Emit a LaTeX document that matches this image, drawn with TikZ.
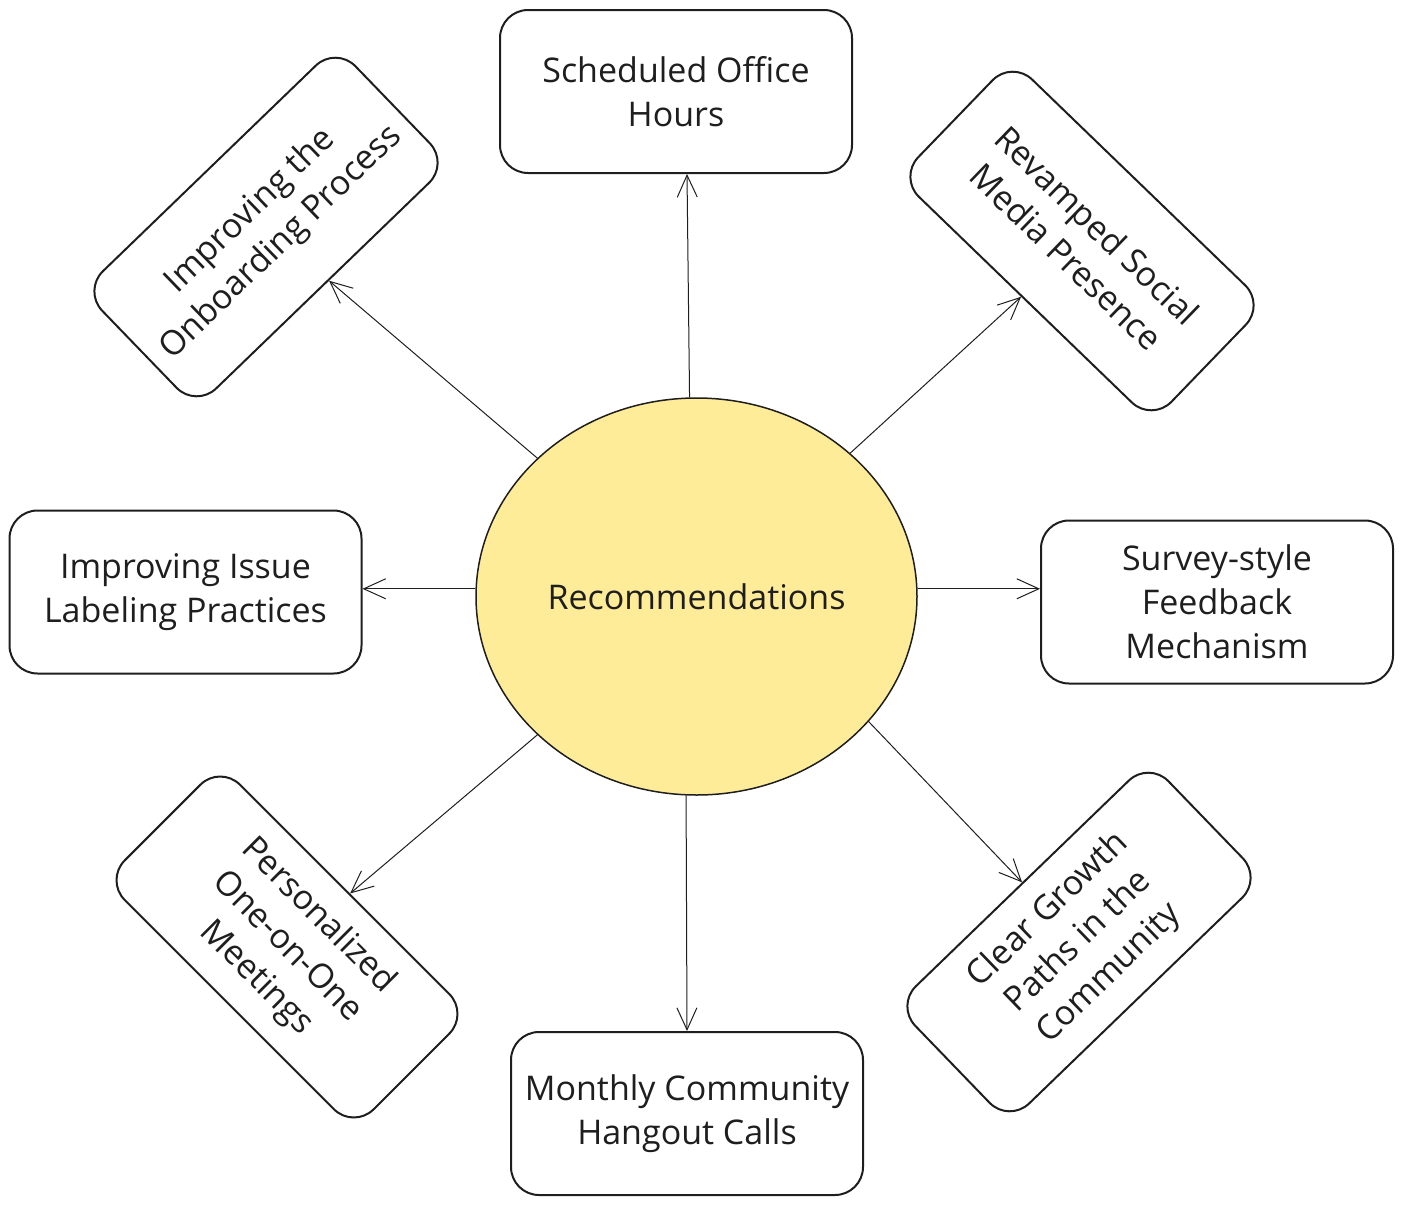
\documentclass[tikz,border=0pt]{standalone}
\usepackage{fontspec}
\setmainfont{Open Sans}
\usetikzlibrary{arrows.meta,shapes.geometric,calc}
\definecolor{ink}{HTML}{1E1E1E}
\definecolor{sun}{HTML}{FFEC99}
\begin{document}
\begin{tikzpicture}[x=0.5pt,y=-0.5pt,
  box/.style={draw=ink, line width=1pt, rounded corners=14pt,
    minimum width=176pt, minimum height=81.5pt, align=center, text=ink,
    font=\fontsize{17}{22}\selectfont, inner sep=0pt},
  hub/.style={ellipse, draw=ink, fill=sun, line width=0.75pt,
    minimum width=220.5pt, minimum height=198.5pt, inner sep=0pt, text=ink,
    font=\fontsize{17}{22}\selectfont},
  arr/.style={draw=ink, line width=0.5pt,
    -{Straight Barb[length=11pt,width=10pt]}}]
\useasboundingbox (0,0) rectangle (1403,1205);

\node[hub] (rec) at (696.5,596.5) {Recommendations};

\node[box] (so) at (676,91.5) {Scheduled Office\\Hours};
\node[box] (fb) at (1217,602) {Survey-style\\Feedback\\Mechanism};
\node[box] (mc) at (687,1113.5) {Monthly Community\\Hangout Calls};
\node[box] (lp) at (185.5,592) {Improving Issue\\Labeling Practices};
\node[box, rotate=44] (ob) at (266,227) {Improving the\\Onboarding Process};
\node[box, rotate=-44] (sm) at (1082,241) {Revamped Social\\Media Presence};
\node[box, rotate=-45] (pm) at (287,947) {Personalized\\One-on-One\\Meetings};
\node[box, rotate=44] (cg) at (1079,942) {Clear Growth\\Paths in the\\Community};

\draw[arr] (rec.92.1) -- ([xshift=5.5pt]so.south);
\draw[arr] (rec.267.3) -- (mc.north);
\draw[arr] (rec.178.3) -- (lp.east |- rec.178.3);
\draw[arr] (rec.2.2) -- (fb.west |- rec.2.2);
\draw[arr] (rec.139.2) -- (ob);
\draw[arr] (rec.43.1) -- (sm);
\draw[arr] (rec.221.9) -- (pm);
\draw[arr] (rec.324.7) -- (cg);
\end{tikzpicture}
\end{document}
